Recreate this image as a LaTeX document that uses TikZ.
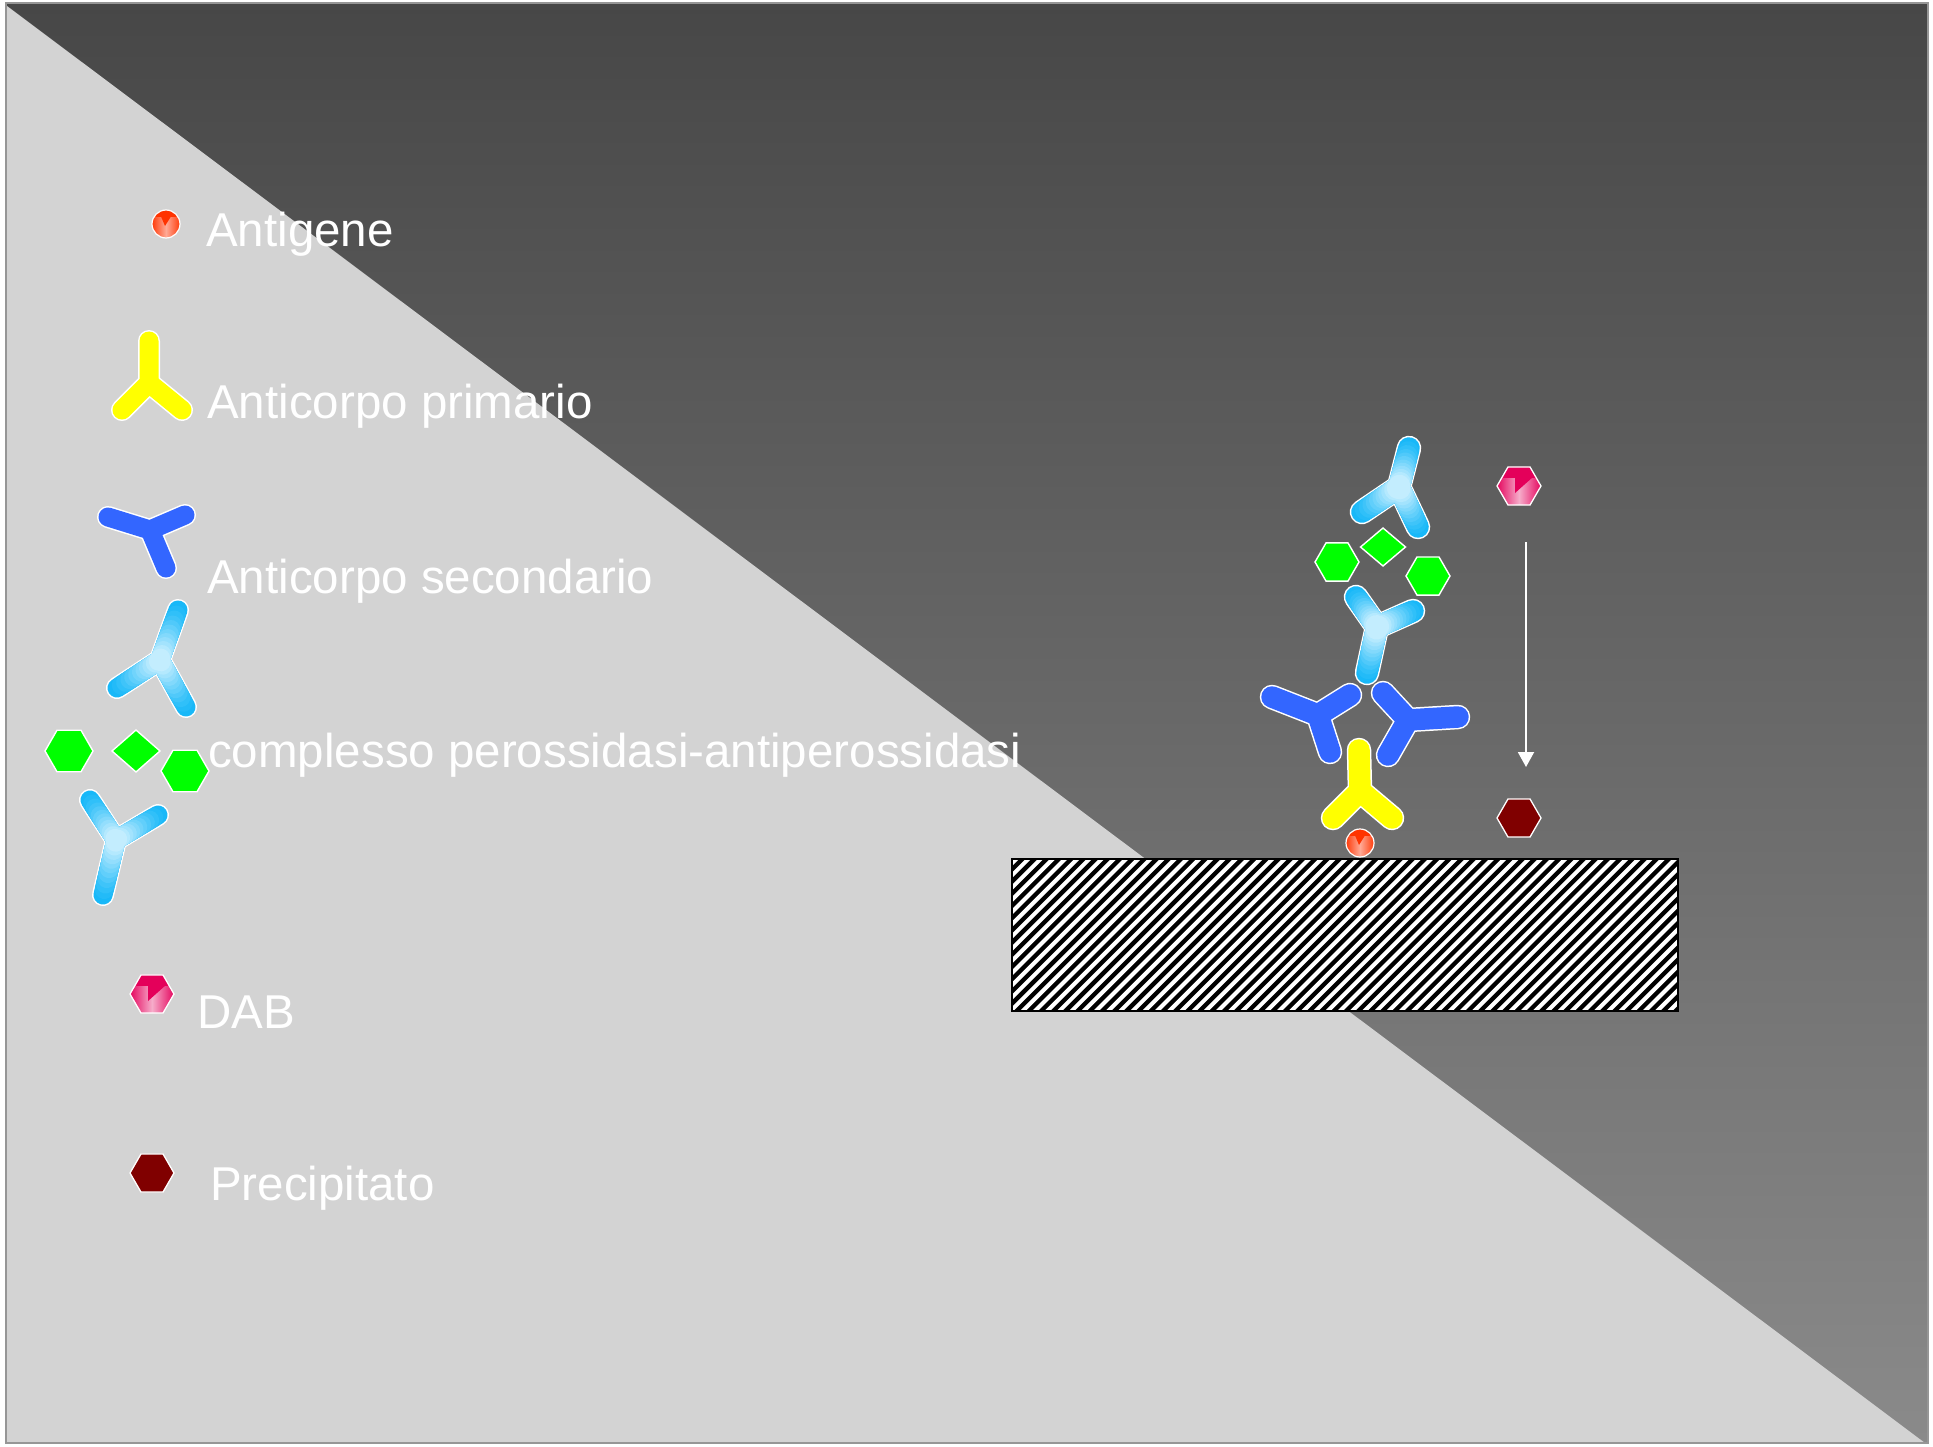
\documentclass[tikz,border=0pt]{standalone}
\usepackage{fontspec}
\setmainfont{Liberation Sans}
\usetikzlibrary{calc,arrows.meta}

\definecolor{bgtop}{RGB}{71,71,71}
\definecolor{bgbot}{RGB}{138,138,138}
\definecolor{paper}{RGB}{211,211,211}
\definecolor{framec}{RGB}{150,150,150}
\definecolor{abyellow}{RGB}{255,255,0}
\definecolor{abblue}{RGB}{51,102,255}
\definecolor{abcyan}{RGB}{24,184,248}
\definecolor{abcyanlt}{RGB}{210,242,255}
\definecolor{pgreen}{RGB}{0,255,0}
\definecolor{agred}{RGB}{255,51,0}
\definecolor{agpink}{RGB}{255,170,150}
\definecolor{dabmag}{RGB}{228,0,90}
\definecolor{dabpink}{RGB}{246,172,202}
\definecolor{precred}{RGB}{128,0,0}

% antibody drawn as three thick rounded arms with a white rim
\newcommand\plainab[5]{%
  \draw[armhalo] (#3) -- (#2) -- (#4) (#2) -- (#5);
  \draw[armcore,#1] (#3) -- (#2) -- (#4) (#2) -- (#5);
}
% antibody of the PAP complex: light glow at the hinge
\newcommand\glowab[4]{%
  \draw[armhalo] (#2) -- (#1) -- (#3) (#1) -- (#4);
  \foreach \f/\w in {1/0,0.9/6,0.8/13,0.7/21,0.61/30,0.52/39,0.43/48,0.35/57,0.27/66,0.19/75,0.11/84,0.04/92}{
    \draw[armcore,abcyanlt!\w!abcyan] (#1) -- ($(#1)!\f!(#2)$) (#1) -- ($(#1)!\f!(#3)$) (#1) -- ($(#1)!\f!(#4)$);
  }
}
% hexagon with flat top and bottom
\newcommand\hexpath[2]{[shift={(#1)}] (0:#2) -- (60:#2) -- (120:#2) -- (180:#2) -- (240:#2) -- (300:#2) -- cycle}
\newcommand\greenhex[2]{\draw[greenbit] \hexpath{#1}{#2};}
\newcommand\greendiam[3]{\draw[greenbit,shift={(#1)}] (-#2,0) -- (0,-#3) -- (#2,0) -- (0,#3) -- cycle;}
% antigen bead
\newcommand\antigen[2]{%
  \coordinate (#1) at (#2);
  \begin{scope}
    \clip (#1) circle (14);
    \shade[left color=agred,right color=agred,middle color=agpink] ($(#1)+(-15,-15)$) rectangle ($(#1)+(15,15)$);
    \fill[agred] ($(#1)+(-16,-16)$) rectangle ($(#1)+(16,-7)$);
    \fill[agred] ($(#1)+(-5,-7.5)$) -- ($(#1)+(5,-7.5)$) -- ($(#1)+(-1,2)$) -- cycle;
  \end{scope}
  \draw[white,line width=1.2pt] (#1) circle (14);
}
% DAB chromogen
\newcommand\dab[2]{%
  \coordinate (#1) at (#2);
  \begin{scope}
    \clip \hexpath{#1}{22};
    \shade[left color=dabmag,right color=dabmag,middle color=dabpink] ($(#1)+(-23,-23)$) rectangle ($(#1)+(23,23)$);
    \fill[dabmag] ($(#1)+(-24,-24)$) rectangle ($(#1)+(24,-8.5)$);
    \fill[dabmag] ($(#1)+(-4,-9)$) -- ($(#1)+(14,-9)$) -- ($(#1)+(-4,7)$) -- cycle;
  \end{scope}
  \draw[white,line width=1.3pt] \hexpath{#1}{22};
}
\newcommand\precip[2]{%
  \coordinate (#1) at (#2);
  \draw[fill=precred,draw=white,line width=1.3pt] \hexpath{#1}{22};
}

\begin{document}
\begin{tikzpicture}[x=1pt,y=-1pt,
  lbl/.style={anchor=base west,inner sep=0pt,text=white,font=\fontsize{47.5}{57}\selectfont},
  armhalo/.style={draw=white,line width=22pt,line cap=round,line join=round},
  armcore/.style={line width=19pt,line cap=round,line join=round},
  greenbit/.style={fill=pgreen,draw=white,line width=1.4pt},
  flow/.style={draw=white,line width=2pt,-{Triangle[width=16pt,length=15pt]}},
  stripe/.style={draw=white,line width=4pt}]

\useasboundingbox (0,0) rectangle (1933,1447);
\fill[white] (0,0) rectangle (1933,1447);

% slide background
\shade[top color=bgtop,bottom color=bgbot] (6,3) rectangle (1928,1443);
\fill[paper] (7,6) -- (1925,1443) -- (7,1443) -- cycle;
\draw[framec,line width=2pt] (6,3) rectangle (1928,1443);

% ---------- legend ----------
\antigen{lgAg}{166,224}

\coordinate (lpJ) at (149,383);
\coordinate (lpS) at (149,341);
\coordinate (lpL) at (122,410);
\coordinate (lpR) at (182,410);
\plainab{abyellow}{lpJ}{lpS}{lpL}{lpR}

\coordinate (lsJ) at (150,530);
\coordinate (lsL) at (108,517);
\coordinate (lsR) at (185,515);
\coordinate (lsS) at (166,568);
\plainab{abblue}{lsJ}{lsL}{lsR}{lsS}

\coordinate (lcJ) at (160,660);
\coordinate (lcS) at (178,610);
\coordinate (lcL) at (117,688);
\coordinate (lcR) at (186,707);
\glowab{lcJ}{lcS}{lcL}{lcR}

\coordinate (lgH1) at (69,751);
\coordinate (lgD) at (136,751);
\coordinate (lgH2) at (185,771);
\greenhex{lgH1}{24}
\greendiam{lgD}{24}{21}
\greenhex{lgH2}{24}

\coordinate (ldJ) at (116,840);
\coordinate (ldL) at (90,800);
\coordinate (ldR) at (158,815);
\coordinate (ldS) at (103,895);
\glowab{ldJ}{ldL}{ldR}{ldS}

\dab{lgDab}{152,994}
\precip{lgPrec}{152,1173}

\node[lbl] (tAg) at (206,247) {Antigene};
\node[lbl] (tPri) at (207,418) {Anticorpo primario};
\node[lbl] (tSec) at (207,593) {Anticorpo secondario};
\node[lbl] (tPap) at (208,767) {complesso perossidasi-antiperossidasi};
\node[lbl] (tDab) at (197,1028) {DAB};
\node[lbl] (tPrec) at (210,1200) {Precipitato};

% ---------- tissue section ----------
\node[fill=black,minimum width=666pt,minimum height=152pt,inner sep=0pt] (support) at (1345,935) {};
\begin{scope}
  \clip (support.south west) rectangle (support.north east);
  \foreach \k in {0,...,68}
    \draw[stripe] ($(support.south west)+(\k*12.2-165,5)$) -- ++(175,-175);
\end{scope}
\draw[black,line width=1.6pt] (support.south west) rectangle (support.north east);

% ---------- PAP staircase (slightly heavier arms) ----------
\begin{scope}[armhalo/.append style={line width=24.5pt},armcore/.append style={line width=21.5pt}]
\antigen{ag}{1360,843}

\coordinate (pJ) at (1360,791);
\coordinate (pS) at (1359,750);
\coordinate (pL) at (1333,818);
\coordinate (pR) at (1392,818);
\plainab{abyellow}{pJ}{pS}{pL}{pR}

\coordinate (s1J) at (1318,715);
\coordinate (s1L) at (1272,697);
\coordinate (s1R) at (1350,695);
\coordinate (s1S) at (1330,752);
\plainab{abblue}{s1J}{s1L}{s1R}{s1S}

\coordinate (s2J) at (1408,720);
\coordinate (s2L) at (1383,693);
\coordinate (s2R) at (1458,717);
\coordinate (s2S) at (1388,755);
\plainab{abblue}{s2J}{s2L}{s2R}{s2S}

\coordinate (c1J) at (1377,627);
\coordinate (c1L) at (1356,597);
\coordinate (c1R) at (1413,611);
\coordinate (c1S) at (1367,673);
\glowab{c1J}{c1L}{c1R}{c1S}

\coordinate (gH1) at (1337,562);
\coordinate (gD) at (1383,547);
\coordinate (gH2) at (1428,576);
\greenhex{gH1}{22}
\greendiam{gD}{22.5}{19}
\greenhex{gH2}{22}

\coordinate (c2J) at (1399,487);
\coordinate (c2S) at (1409,448);
\coordinate (c2L) at (1362,512);
\coordinate (c2R) at (1418,527);
\glowab{c2J}{c2S}{c2L}{c2R}
\end{scope}

% ---------- DAB turning into precipitate ----------
\dab{dabR}{1519,486}
\precip{precR}{1519,818}
\draw[flow,shorten <=56pt,shorten >=51pt] ([xshift=7pt]dabR) -- ([xshift=7pt]precR);

\end{tikzpicture}
\end{document}
